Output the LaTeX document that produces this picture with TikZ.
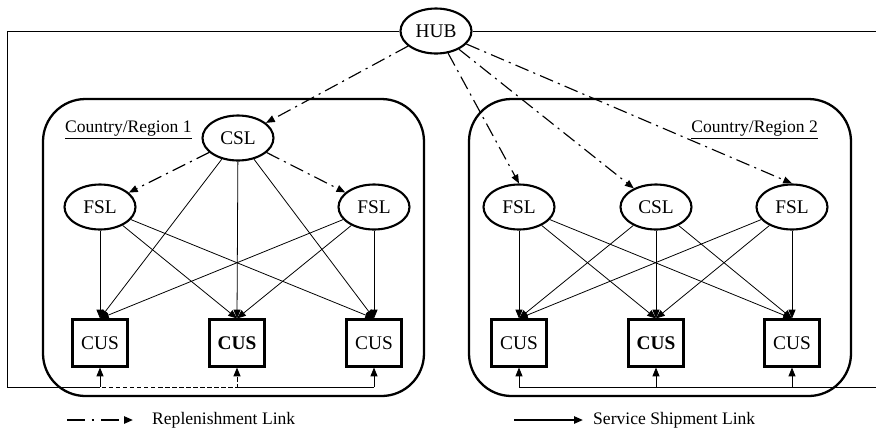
\documentclass[tikz,border=0pt]{standalone}
\usepackage{fontspec}
\setmainfont{Liberation Serif}
\usetikzlibrary{shapes.geometric,arrows.meta}

\begin{document}
\begin{tikzpicture}[
    x=0.02cm, y=-0.02cm,
    every node/.style={font=\fontsize{10}{12}\selectfont},
    sitio/.style={ellipse,draw,line width=1.2pt,minimum width=1.42cm,
        minimum height=0.9cm,inner sep=0pt,font=\fontsize{11}{13}\selectfont},
    cliente/.style={rectangle,draw,line width=1.2pt,minimum width=1.1cm,
        minimum height=0.94cm,inner sep=0pt,font=\fontsize{11}{13}\selectfont},
    region/.style={draw,line width=1.3pt,rounded corners=0.85cm},
    envio/.style={-{Triangle[length=5pt,width=4pt]},line width=0.45pt},
    repo/.style={envio,line width=0.65pt,dash pattern=on 8pt off 3pt on 1.2pt off 3pt}]
    \useasboundingbox (0,0) rectangle (876,434);

    % Las dos regiones.
    \draw[region] (43,99) rectangle (424,396);
    \draw[region] (469,99) rectangle (851,396);
    \node[anchor=base west] (rot1) at (59,132) {\underline{Country/Region 1}};
    \node[anchor=base east] (rot2) at (824,132) {\underline{Country/Region 2}};

    % Sitios y clientes.
    \node[sitio] (hub) at (436,31) {HUB};
    \node[sitio] (csl1) at (238,138) {CSL};
    \node[sitio] (fsl1a) at (100,207) {FSL};
    \node[sitio] (fsl1b) at (374,207) {FSL};
    \node[cliente] (cus1a) at (100,343) {CUS};
    \node[cliente] (cus1b) at (237,343) {\textbf{CUS}};
    \node[cliente] (cus1c) at (374,343) {CUS};
    \node[sitio] (fsl2a) at (519,207) {FSL};
    \node[sitio] (csl2) at (656,207) {CSL};
    \node[sitio] (fsl2b) at (792,207) {FSL};
    \node[cliente] (cus2a) at (519,343) {CUS};
    \node[cliente] (cus2b) at (656,343) {\textbf{CUS}};
    \node[cliente] (cus2c) at (792,343) {CUS};

    % Envios de servicio dentro de cada region.
    \foreach \o in {csl1,fsl1a,fsl1b}
        \foreach \d in {cus1a,cus1b,cus1c}
            \draw[envio] (\o) -- (\d.north);
    \foreach \o in {fsl2a,csl2,fsl2b}
        \foreach \d in {cus2a,cus2b,cus2c}
            \draw[envio] (\o) -- (\d.north);

    % Reposicion desde el HUB.
    \draw[repo] (hub) -- (csl1);
    \draw[repo] (csl1) -- (fsl1a);
    \draw[repo] (csl1) -- (fsl1b);
    \draw[repo] (hub) -- (fsl2a.north);
    \draw[repo] (hub) -- (csl2.140);
    \draw[repo] (hub) -- (fsl2b.north);

    % Envios directos del HUB por los bordes.
    \coordinate (esqA) at (7,31);
    \coordinate (esqB) at (7,387);
    \coordinate (esqC) at (880,31);
    \coordinate (esqD) at (880,387);
    \draw[line width=0.45pt] (hub.west) -- (esqA) -- (esqB) -- (cus1a.south |- esqB);
    \draw[envio] (cus1a.south |- esqB) -- (cus1a.south);
    \draw[line width=0.45pt] (cus1b.south |- esqB) -- (cus1c.south |- esqB);
    \draw[envio] (cus1c.south |- esqB) -- (cus1c.south);
    \draw[envio,line width=0.55pt,dash pattern=on 2.5pt off 1.5pt]
        (hub.west) -- (esqA) -- (esqB) -| (cus1b.south);
    \draw[line width=0.45pt] (hub.east) -- (esqC) -- (esqD) -- (cus2a.south |- esqD);
    \foreach \d in {cus2a,cus2b,cus2c}
        \draw[envio] (\d.south |- esqD) -- (\d.south);

    % Leyenda.
    \coordinate (ley1a) at (67,420);
    \node[anchor=west] (ley1) at (146,420) {Replenishment Link};
    \draw[repo,line width=1.1pt,dash pattern=on 10pt off 4pt on 1.5pt off 4pt]
        (ley1a) -- ([xshift=-0.26cm]ley1.west);
    \coordinate (ley2a) at (514,420);
    \node[anchor=west] (ley2) at (587,420) {Service Shipment Link};
    \draw[envio,line width=1.1pt] (ley2a) -- ([xshift=-0.08cm]ley2.west);
\end{tikzpicture}
\end{document}
